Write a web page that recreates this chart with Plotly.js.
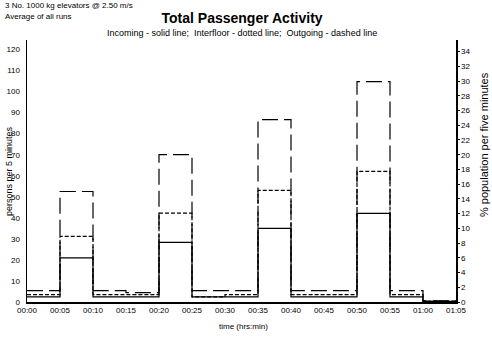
<!DOCTYPE html>
<html>
<head>
<meta charset="utf-8">
<script src="https://cdn.plot.ly/plotly-3.0.1.min.js"></script>
<style>html,body{margin:0;padding:0;background:#fff;}#chart{width:492px;height:360px;}</style>
</head>
<body>
<div id="chart"></div>
<script>
// Interval start times (minutes); last entry closes the final interval
var timeMinutes = [0, 5, 10, 15, 20, 25, 30, 35, 40, 45, 50, 55, 60, 65];
var tickLabels = ["00:00","00:05","00:10","00:15","00:20","00:25","00:30","00:35","00:40","00:45","00:50","00:55","01:00","01:05"];
// persons per 5 minutes, one value per interval (13 intervals)
var incoming   = [2.4, 21.0, 2.4, 2.4, 28.3, 2.4, 2.4, 35.0, 2.4, 2.4, 42.1, 2.4, 0.3];
var interfloor = [3.5, 31.2, 3.5, 3.5, 42.2, 2.4, 3.5, 53.0, 3.5, 3.5, 62.1, 3.5, 0.4];
var outgoing   = [5.4, 52.5, 5.4, 4.5, 70.0, 5.4, 5.4, 86.7, 5.4, 5.4, 104.7, 5.4, 0.5];
var population = 350; // persons; right axis = % of population
var leftTicks = [0,10,20,30,40,50,60,70,80,90,100,110,120];
var rightTicks = [0,2,4,6,8,10,12,14,16,18,20,22,24,26,28,30,32,34];

function closeSteps(v){ return v.concat([v[v.length-1]]); }

var lineFont = {family: "Liberation Sans, Arial, sans-serif", size: 8, color: "#000"};

var traces = [
  {x: timeMinutes, y: closeSteps(incoming), mode: "lines", name: "Incoming",
   line: {shape: "hv", color: "#000", width: 1.2}},
  {x: timeMinutes, y: closeSteps(interfloor), mode: "lines", name: "Interfloor",
   line: {shape: "hv", color: "#000", width: 1.2, dash: "4px,2px"}},
  {x: timeMinutes, y: closeSteps(outgoing), mode: "lines", name: "Outgoing",
   line: {shape: "hv", color: "#000", width: 1.2, dash: "16px,6px"}}
];

var yMax = 124.5;

var layout = {
  width: 492, height: 360,
  margin: {l: 27, r: 36, t: 40, b: 58},
  paper_bgcolor: "#fff", plot_bgcolor: "#fff",
  showlegend: false,
  font: lineFont,
  title: {text: "<b>Total Passenger Activity</b>", x: 0.492, xanchor: "center", y: 0.95, yanchor: "middle",
          font: {family: "Liberation Sans, Arial, sans-serif", size: 14, color: "#000"}},
  xaxis: {range: [0, 65], tickvals: timeMinutes, ticktext: tickLabels, showgrid: false, zeroline: false,
          showline: true, linecolor: "#000", linewidth: 1.5, ticks: "", tickfont: lineFont, fixedrange: true},
  yaxis: {range: [0, yMax], tickvals: leftTicks, showgrid: false, zeroline: false,
          showline: true, linecolor: "#000", linewidth: 1.5, ticks: "", ticklabelstandoff: 4, tickfont: lineFont},
  yaxis2: {range: [0, yMax * 100 / population], tickvals: rightTicks, overlaying: "y", side: "right",
           showgrid: false, zeroline: false, showline: true, linecolor: "#000", linewidth: 1.5,
           ticks: "outside", ticklen: 2, tickcolor: "#000", tickfont: lineFont},
  annotations: [
    {text: "3 No. 1000 kg elevators @ 2.50 m/s", xref: "paper", yref: "paper", x: -0.056, y: 1.130,
     xanchor: "left", yanchor: "middle", showarrow: false, font: lineFont},
    {text: "Average of all runs", xref: "paper", yref: "paper", x: -0.056, y: 1.0916,
     xanchor: "left", yanchor: "middle", showarrow: false, font: lineFont},
    {text: "Incoming - solid line;  Interfloor - dotted line;  Outgoing - dashed line", xref: "paper", yref: "paper",
     x: 0.501, y: 1.0267, xanchor: "center", yanchor: "middle", showarrow: false,
     font: {family: "Liberation Sans, Arial, sans-serif", size: 9, color: "#000"}},
    {text: "persons per 5 minutes", xref: "paper", yref: "paper", x: -0.042, y: 0.5, textangle: -90,
     xanchor: "center", yanchor: "middle", showarrow: false,
     font: {family: "Liberation Sans, Arial, sans-serif", size: 9, color: "#000"}},
    {text: "% population per five minutes", xref: "paper", yref: "paper", x: 1.0653, y: 0.599, textangle: -90,
     xanchor: "center", yanchor: "middle", showarrow: false,
     font: {family: "Liberation Sans, Arial, sans-serif", size: 11, color: "#000"}},
    {text: "time (hrs:min)", xref: "paper", yref: "paper", x: 0.5035, y: -0.0954,
     xanchor: "center", yanchor: "middle", showarrow: false, font: lineFont}
  ]
};

// invisible carrier so the right axis is tied to a trace
traces.push({x: [null], y: [null], yaxis: "y2", mode: "lines", hoverinfo: "skip", showlegend: false});

Plotly.newPlot("chart", traces, layout, {staticPlot: true, displayModeBar: false});
</script>
</body>
</html>
